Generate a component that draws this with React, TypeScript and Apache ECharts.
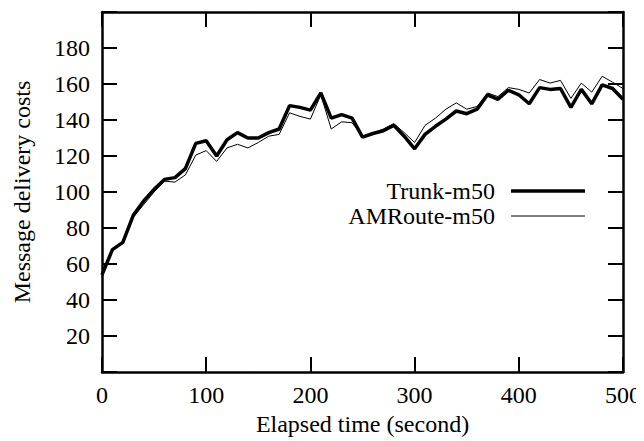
import React, { useEffect, useRef } from "react";
import * as echarts from "echarts";

const times: number[] = [
  0, 10, 20, 30, 40, 50, 60, 70, 80, 90,
  100, 110, 120, 130, 140, 150, 160, 170, 180, 190,
  200, 210, 220, 230, 240, 250, 260, 270, 280, 290,
  300, 310, 320, 330, 340, 350, 360, 370, 380, 390,
  400, 410, 420, 430, 440, 450, 460, 470, 480, 490, 500,
];

const trunk: number[] = [
  54, 68, 72, 87, 95, 101.5, 107, 108, 113, 127,
  128.5, 120, 129, 133, 130, 130, 133, 135, 148, 147,
  145.5, 155, 141, 143, 141, 130.5, 132.5, 134, 137, 131,
  124, 132, 136.5, 140.5, 145, 143.5, 146, 154, 151.5, 156.5,
  154, 149, 158, 157, 157.5, 147, 157, 149, 159.5, 157.5, 151.5,
];

const amroute: number[] = [
  53, 68, 72, 86, 93, 100, 106, 105.5, 109.5, 120.5,
  123, 117, 124.5, 126.5, 124.5, 127.5, 131, 132, 144, 142,
  140.5, 154, 135, 139, 138.5, 131, 132.5, 135, 138, 133,
  127.5, 137, 141, 146, 149.5, 146, 147.5, 155, 153, 158,
  157, 155, 162.5, 160.5, 162, 152, 160.5, 155.5, 164.3, 161, 157.5,
];

const seriesNames: string[] = ["Trunk-m50", "AMRoute-m50"];
const xTitle = "Elapsed time (second)";
const yTitle = "Message delivery costs";

const FONT = "'Liberation Serif', 'Times New Roman', 'DejaVu Serif', serif";
const FS = 24;

export default function App() {
  const ref = useRef<HTMLDivElement>(null);
  useEffect(() => {
    if (!ref.current) return;
    const chart = echarts.init(ref.current, undefined, { renderer: "svg" });
    const axisCommon = {
      type: "value" as const,
      axisLine: { show: true, onZero: false, lineStyle: { color: "#000", width: 2.5 } },
      axisTick: { show: true, inside: true, length: 15, lineStyle: { color: "#000", width: 2 } },
      splitLine: { show: false },
    };
    const trunkData = times.map((t, i) => [t, trunk[i]]);
    const amData = times.map((t, i) => [t, amroute[i]]);
    chart.setOption({
      animation: false,
      backgroundColor: "#fff",
      grid: { left: 102, right: 19, top: 12, bottom: 69, containLabel: false },
      xAxis: [
        {
          ...axisCommon,
          min: 0,
          max: 500,
          interval: 100,
          position: "bottom",
          axisLabel: { color: "#000", fontFamily: FONT, fontSize: FS, margin: 11 },
          name: xTitle,
          nameLocation: "middle",
          nameGap: 38,
          nameTextStyle: { color: "#000", fontFamily: FONT, fontSize: FS },
        },
        {
          ...axisCommon,
          min: 0,
          max: 500,
          interval: 100,
          position: "top",
          axisLabel: { show: false },
        },
      ],
      yAxis: [
        {
          ...axisCommon,
          min: 0,
          max: 200,
          interval: 20,
          position: "left",
          axisLabel: {
            color: "#000",
            fontFamily: FONT,
            fontSize: FS,
            margin: 12,
            formatter: (v: number) => (v === 0 || v === 200 ? "" : String(v)),
          },
          name: yTitle,
          nameLocation: "middle",
          nameGap: 68,
          nameRotate: 90,
          nameTextStyle: { color: "#000", fontFamily: FONT, fontSize: FS },
        },
        {
          ...axisCommon,
          min: 0,
          max: 200,
          interval: 20,
          position: "right",
          axisLabel: { show: false },
        },
      ],
      series: [
        {
          name: seriesNames[1],
          type: "line",
          data: amData,
          showSymbol: false,
          lineStyle: { color: "#000", width: 1 },
          z: 2,
        },
        {
          name: seriesNames[0],
          type: "line",
          data: trunkData,
          showSymbol: false,
          lineStyle: { color: "#000", width: 3.5 },
          z: 3,
        },
      ],
      graphic: [
        {
          type: "text",
          x: 495,
          y: 191,
          style: {
            text: seriesNames[0],
            fill: "#000",
            fontFamily: FONT,
            fontSize: FS,
            align: "right",
            verticalAlign: "middle",
          },
        },
        {
          type: "line",
          shape: { x1: 511, y1: 191, x2: 585, y2: 191 },
          style: { stroke: "#000", lineWidth: 3.5 },
        },
        {
          type: "text",
          x: 495,
          y: 216,
          style: {
            text: seriesNames[1],
            fill: "#000",
            fontFamily: FONT,
            fontSize: FS,
            align: "right",
            verticalAlign: "middle",
          },
        },
        {
          type: "line",
          shape: { x1: 511, y1: 216, x2: 585, y2: 216 },
          style: { stroke: "#000", lineWidth: 1 },
        },
      ],
    });
    return () => chart.dispose();
  }, []);
  return <div ref={ref} style={{ width: 644, height: 441, marginLeft: -8, marginTop: -8 }} />;
}
